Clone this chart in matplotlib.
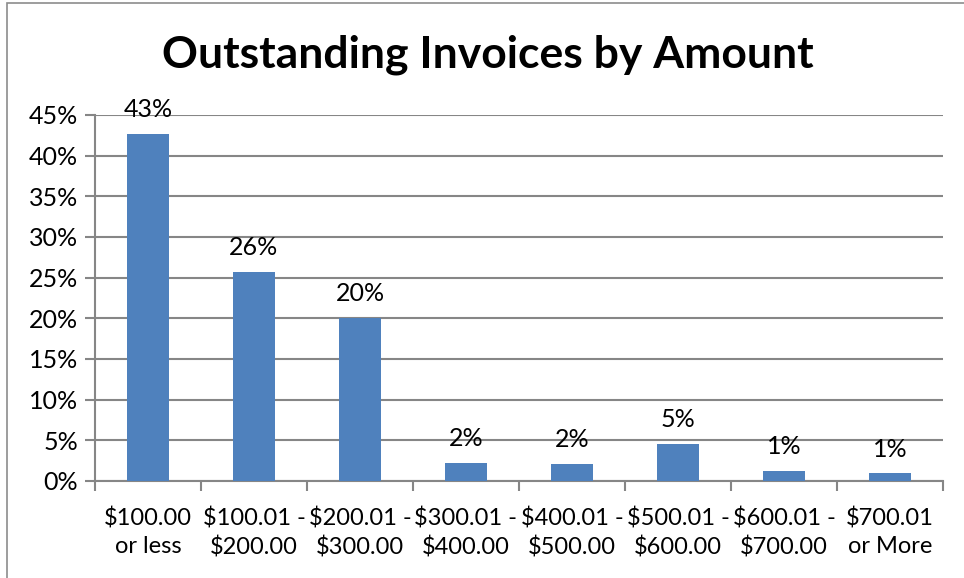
import numpy as np
import matplotlib
matplotlib.use("Agg")
import matplotlib.pyplot as plt
from matplotlib.patches import Rectangle

# Data
categories = ["$100.00\nor less", "$100.01 -\n$200.00", "$200.01 -\n$300.00",
              "$300.01 -\n$400.00", "$400.01 -\n$500.00", "$500.01 -\n$600.00",
              "$600.01 -\n$700.00", "$700.01\nor More"]
shares = [42.7, 25.7, 20.1, 2.25, 2.1, 4.6, 1.25, 0.96]
labels = ["43%", "26%", "20%", "2%", "2%", "5%", "1%", "1%"]

plt.rcParams['font.family'] = ['Lato', 'DejaVu Sans']

fig = plt.figure(figsize=(9.64, 5.78), dpi=100)
ax = fig.add_axes([95 / 964, 1 - 481 / 578, 848 / 964, 366 / 578])

# outer chart frame (left and top edges visible)
fig.patches.append(Rectangle((7 / 964, -0.05), 1.1, 1 - 3 / 578 + 0.05,
                             transform=fig.transFigure, fill=False,
                             edgecolor='#8c8c8c', linewidth=1.2))

x = np.arange(len(categories))
bars = ax.bar(x, shares, width=0.4, color='#4F81BD', zorder=3)

for rect, lab in zip(bars, labels):
    ax.annotate(lab, (rect.get_x() + rect.get_width() / 2, rect.get_height()),
                xytext=(0, 9), textcoords='offset points',
                ha='center', va='bottom', fontsize=18)

ax.set_xlim(-0.5, len(categories) - 0.5)
ax.set_ylim(0, 45)
ax.set_yticks(np.arange(0, 46, 5))
ax.set_yticklabels([f"{v}%" for v in range(0, 46, 5)], fontsize=18)

# category labels centred, tick marks at the boundaries
ax.set_xticks(x)
ax.set_xticklabels(categories, fontsize=17, linespacing=1.4)
ax.tick_params(axis='x', which='major', length=0, pad=19)
ax.set_xticks(np.arange(-0.5, len(categories), 1), minor=True)
ax.tick_params(axis='x', which='minor', length=7, width=1.5, color='#868686')
ax.tick_params(axis='y', length=7, width=1.5, color='#868686', pad=5)

ax.grid(axis='y', color='#868686', linewidth=1.5, zorder=0)
for s in ['top', 'right']:
    ax.spines[s].set_visible(False)
for s in ['left', 'bottom']:
    ax.spines[s].set_color('#868686')
    ax.spines[s].set_linewidth(1.5)

fig.text(488 / 964, 1 - 55 / 578, "Outstanding Invoices by Amount",
         ha='center', va='center', fontsize=32, fontweight='bold')

fig.savefig("out.png", dpi=100)
